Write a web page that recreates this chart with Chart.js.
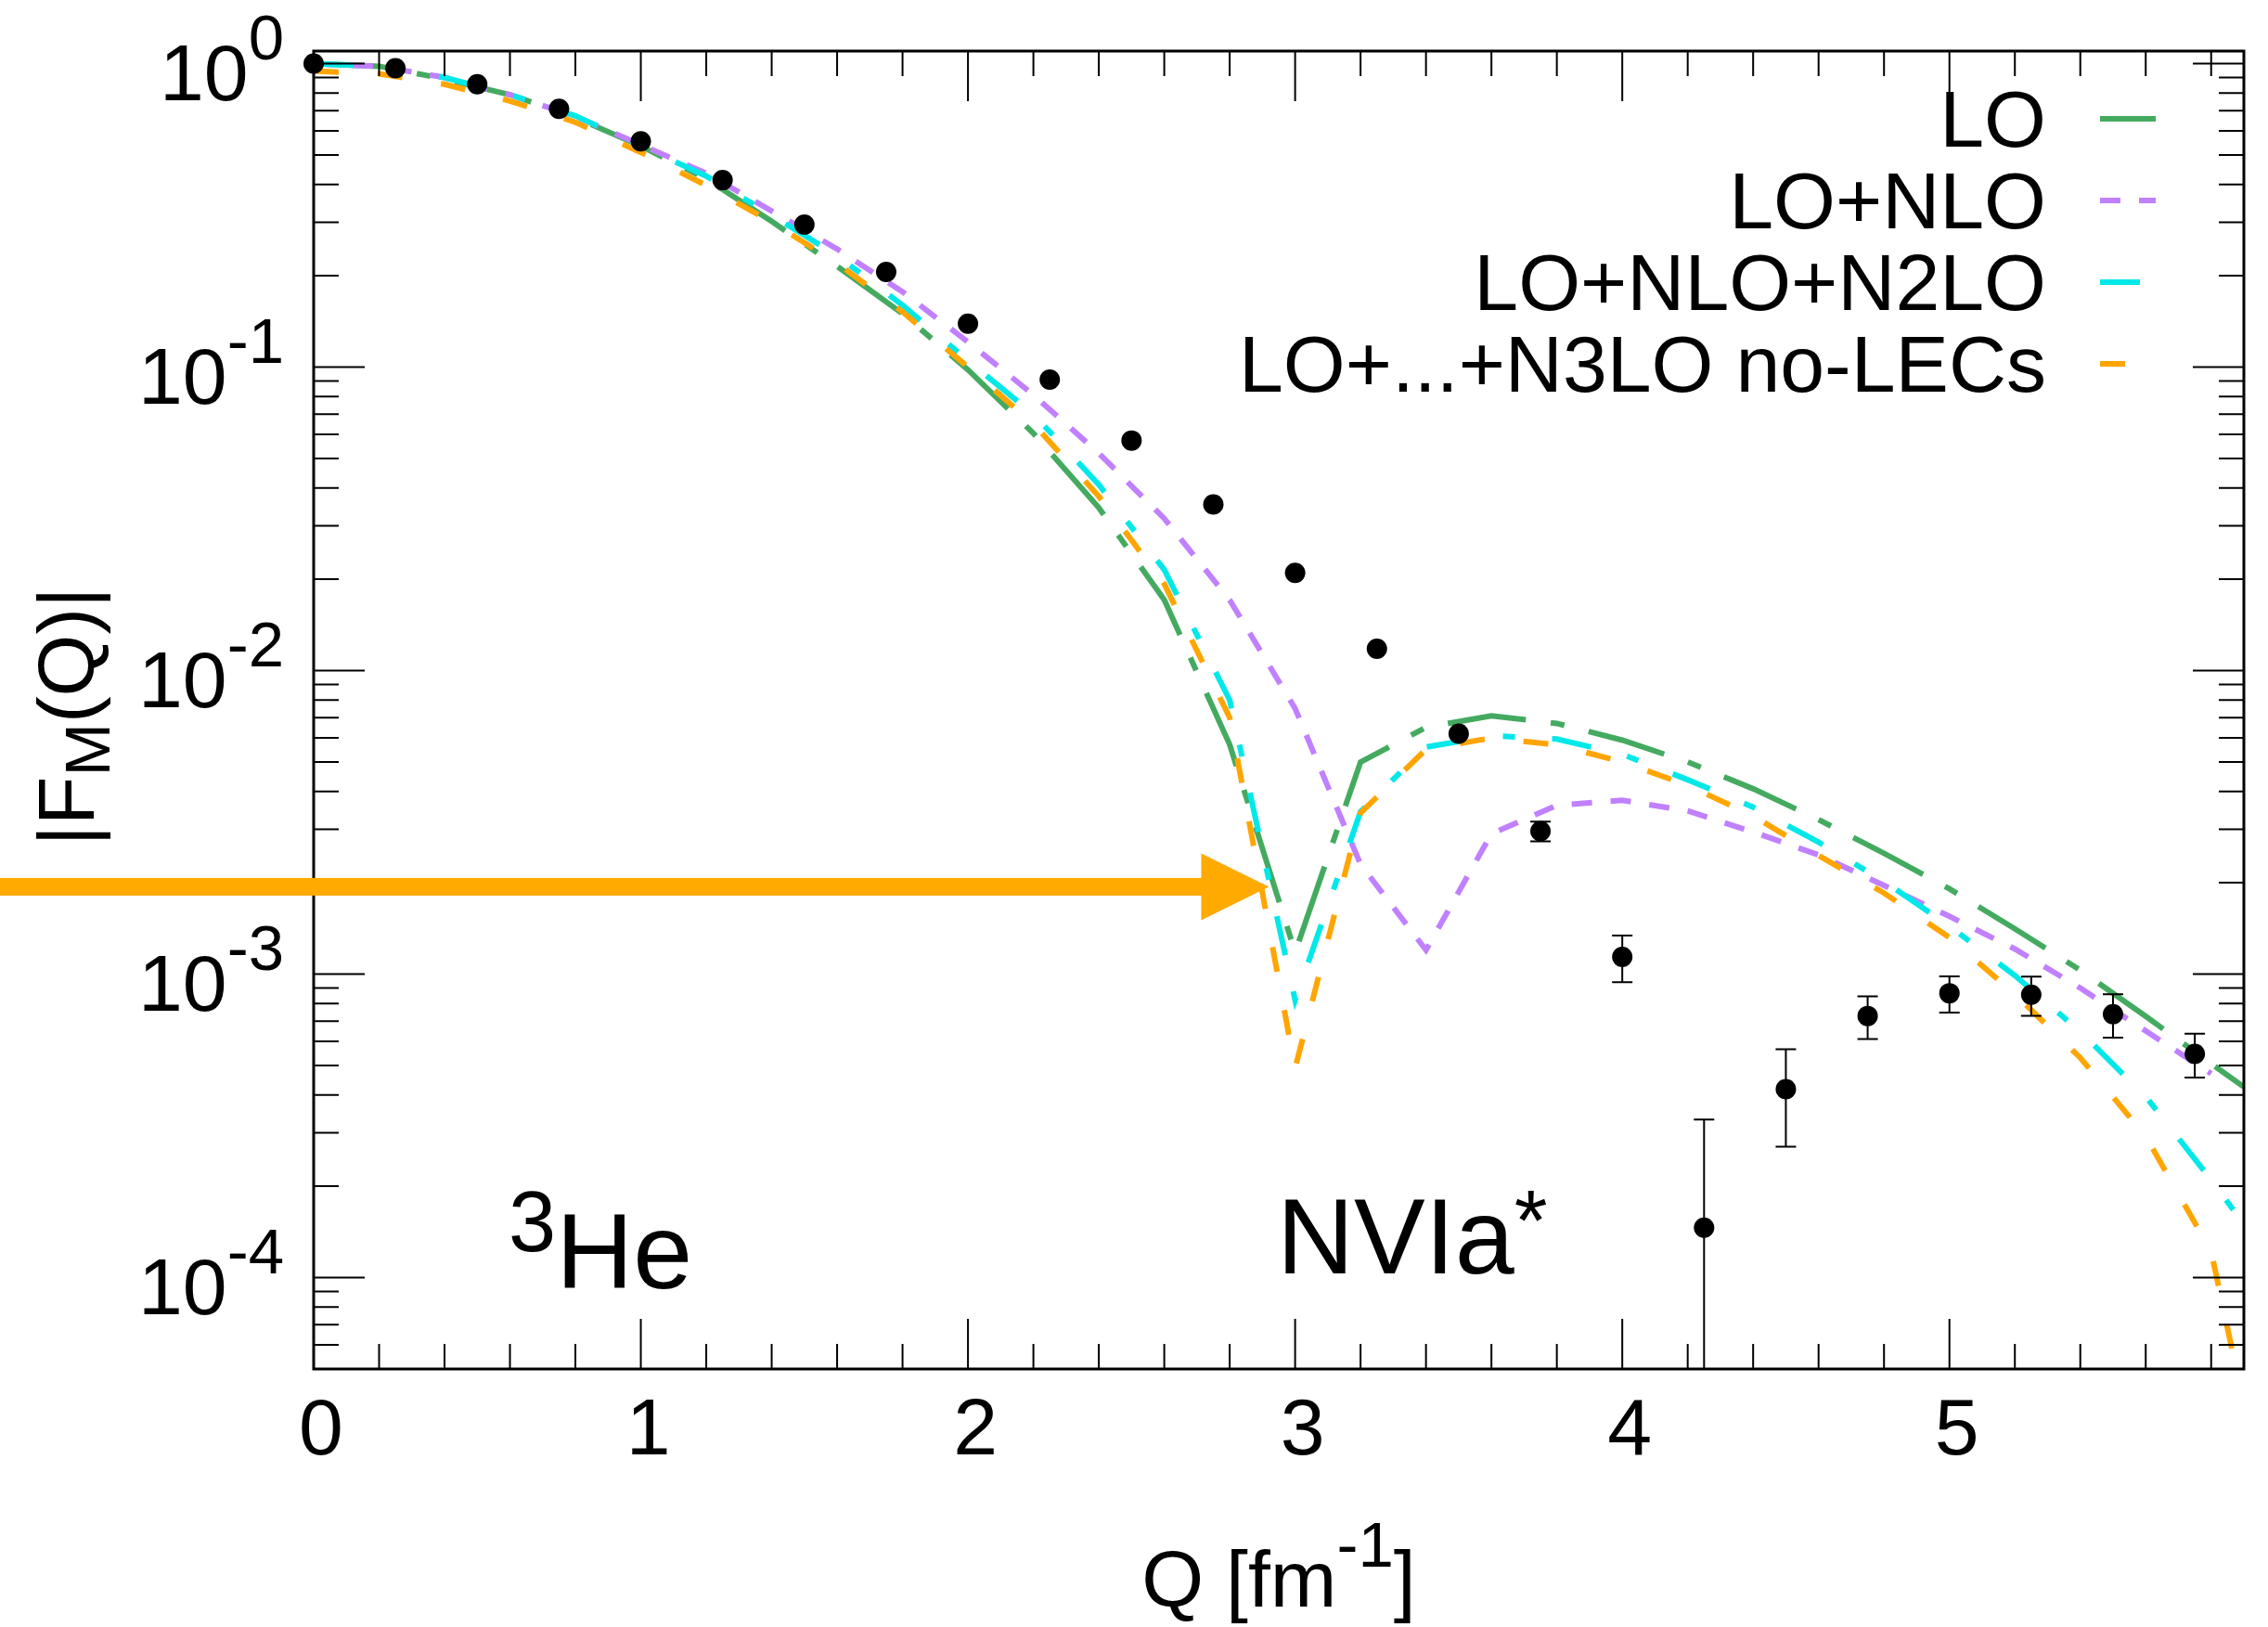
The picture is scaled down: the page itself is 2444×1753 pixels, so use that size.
<!DOCTYPE html>
<html>
<head>
<meta charset="utf-8">
<script src="https://cdn.jsdelivr.net/npm/chart.js@4.4.1/dist/chart.umd.min.js"></script>
<style>
  html, body { margin: 0; padding: 0; background: #fff; }
  canvas { display: block; }
</style>
</head>
<body>
<canvas id="ff-chart" width="2444" height="1753"></canvas>
<script>
// theory curves, |F_M(Q)| vs Q [fm^-1]
const qTheory = [0, 0.2, 0.4, 0.6, 0.8, 1.0, 1.2, 1.4, 1.6, 1.8, 2.0, 2.2, 2.4, 2.6, 2.8, 3.0,
    3.2, 3.4, 3.6, 3.8, 4.0, 4.2, 4.4, 4.6, 4.8, 5.0, 5.2, 5.4, 5.6, 5.8, 5.9];
const loValues = [1.0, 0.98, 0.89, 0.79, 0.665, 0.535, 0.417, 0.302, 0.215, 0.150, 0.098, 0.0605,
    0.0344, 0.0171, 0.0057, 0.00118, 0.0050, 0.0065, 0.0071, 0.0067, 0.0059, 0.0050, 0.00408,
    0.00323, 0.0025, 0.00191, 0.00141, 0.00103, 0.000726, 0.000507, 0.000425];
const nloValues = [1.0, 0.98, 0.90, 0.79, 0.67, 0.54, 0.435, 0.327, 0.245, 0.177, 0.121, 0.081,
    0.052, 0.0317, 0.0171, 0.0075, 0.0023, 0.0012, 0.0029, 0.0036, 0.00374, 0.00345, 0.00294,
    0.00247, 0.00196, 0.00155, 0.00121, 0.0009, 0.00065, 0.00047, null];
const n2loValues = [1.0, 0.98, 0.90, 0.79, 0.673, 0.535, 0.426, 0.317, 0.233, 0.16, 0.105, 0.070,
    0.041, 0.0215, 0.0080, 0.00082, 0.00343, 0.0056, 0.0061, 0.00595, 0.0053, 0.00437, 0.00355,
    0.00272, 0.00202, 0.00144, 0.00099, 0.000646, 0.000395, 0.00021, 0.00015];
const n3loValues = [0.945, 0.925, 0.855, 0.753, 0.641, 0.51, 0.397, 0.30, 0.22, 0.152, 0.10, 0.065,
    0.0375, 0.0193, 0.0070, 0.00049, 0.0034, 0.0055, 0.0060, 0.0057, 0.0050, 0.00419, 0.00332,
    0.00246, 0.00185, 0.00132, 0.00086, 0.00053, 0.000292, 0.000122, 0.000038];

// experimental points
const qData = [0, 0.25, 0.5, 0.75, 1.0, 1.25, 1.5, 1.75, 2.0, 2.25, 2.5, 2.75, 3.0, 3.25, 3.5,
    3.75, 4.0, 4.25, 4.5, 4.75, 5.0, 5.25, 5.5, 5.75];
const fData = [1.0, 0.965, 0.855, 0.71, 0.555, 0.413, 0.295, 0.206, 0.139, 0.091, 0.0573, 0.0353,
    0.021, 0.0118, 0.0062, 0.00296, 0.00114, 0.000146, 0.000418, 0.000728, 0.000865, 0.000855,
    0.000738, 0.000546];
const fErr = [0, 0, 0, 0, 0, 0, 0, 0, 0, 0, 0, 0, 0, 0, 0, 0.00022, 0.0002, 0.000186, 0.000148,
    0.000117, 0.000118, 0.000126, 0.00012, 0.00009];

const seriesLabels = ['LO', 'LO+NLO', 'LO+NLO+N2LO', 'LO+...+N3LO no-LECs'];
const xTickLabels = ['0', '1', '2', '3', '4', '5'];
const yTickExponents = ['0', '-1', '-2', '-3', '-4'];
const arrowTip = { x: 2.92, y: 0.00194 };

const FONT = '"Liberation Sans", Arial, Helvetica, sans-serif';

function toPoints(xs, ys) {
    return xs.map((x, i) => ({ x: x, y: ys[i] }));
}

function curve(label, values, color, dash, order) {
    return {
        label: label,
        data: toPoints(qTheory, values),
        borderColor: color,
        borderWidth: 6,
        borderDash: dash,
        borderCapStyle: 'butt',
        pointRadius: 0,
        tension: 0,
        fill: false,
        spanGaps: false,
        clip: 0,
        order: order,
    };
}

// text pieces: [text, size, dy]
function drawRich(ctx, parts, x, y, align) {
    let total = 0;
    const widths = parts.map(([t, size]) => {
        ctx.font = size + 'px ' + FONT;
        const w = ctx.measureText(t).width;
        total += w;
        return w;
    });
    let cx = x;
    if (align === 'right') cx = x - total;
    if (align === 'center') cx = x - total / 2;
    ctx.textAlign = 'left';
    ctx.textBaseline = 'alphabetic';
    parts.forEach(([t, size, dy], i) => {
        ctx.font = size + 'px ' + FONT;
        ctx.fillText(t, cx, y + dy);
        cx += widths[i];
    });
}

const decorations = {
    id: 'decorations',
    afterDatasetsDraw(chart) {
        const { ctx, chartArea: a, scales: { x, y } } = chart;
        ctx.save();

        // error bars
        ctx.strokeStyle = '#000';
        ctx.lineWidth = 2;
        ctx.beginPath();
        ctx.rect(a.left, a.top, a.right - a.left, a.bottom - a.top);
        ctx.clip();
        qData.forEach((q, i) => {
            if (!fErr[i]) return;
            const px = x.getPixelForValue(q);
            const top = y.getPixelForValue(fData[i] + fErr[i]);
            const lo = fData[i] - fErr[i];
            const bot = lo > 0 ? y.getPixelForValue(lo) : a.bottom + 5;
            ctx.beginPath();
            ctx.moveTo(px, top);
            ctx.lineTo(px, bot);
            ctx.moveTo(px - 11, top);
            ctx.lineTo(px + 11, top);
            if (lo > 0) {
                ctx.moveTo(px - 11, bot);
                ctx.lineTo(px + 11, bot);
            }
            ctx.stroke();
        });
        ctx.restore();
        ctx.save();

        // frame
        ctx.strokeStyle = '#000';
        ctx.lineWidth = 3;
        ctx.strokeRect(a.left, a.top, a.right - a.left, a.bottom - a.top);

        // ticks, all inward, mirrored
        ctx.lineWidth = 2;
        ctx.beginPath();
        for (let i = 0; i <= 29; i++) {
            const px = x.getPixelForValue(i * 0.2);
            const len = i % 5 === 0 ? 54 : 27;
            ctx.moveTo(px, a.bottom);
            ctx.lineTo(px, a.bottom - len);
            ctx.moveTo(px, a.top);
            ctx.lineTo(px, a.top + len);
        }
        for (let e = -5; e <= 0; e++) {
            for (let m = 1; m <= 9; m++) {
                const v = m * Math.pow(10, e);
                if (v < y.min || v > y.max) continue;
                const py = y.getPixelForValue(v);
                const len = m === 1 ? 55 : 27;
                ctx.moveTo(a.left, py);
                ctx.lineTo(a.left + len, py);
                ctx.moveTo(a.right, py);
                ctx.lineTo(a.right - len, py);
            }
        }
        ctx.stroke();

        // tick labels
        ctx.fillStyle = '#000';
        yTickExponents.forEach((ex) => {
            const py = y.getPixelForValue(Math.pow(10, Number(ex)));
            drawRich(ctx, [['10', 86, 0], [ex, 69, -44]], 306, py + 39, 'right');
        });
        xTickLabels.forEach((t) => {
            const px = x.getPixelForValue(Number(t));
            drawRich(ctx, [[t, 86, 0]], px + 8, a.bottom + 92, 'center');
        });

        // axis titles
        drawRich(ctx, [['Q [fm', 86, 0], ['-1', 69, -43], [']', 86, 0]], (a.left + a.right) / 2, 1731, 'center');
        ctx.save();
        ctx.translate(101, 772);
        ctx.rotate(-Math.PI / 2);
        drawRich(ctx, [['|F', 86, 0], ['M', 69, 17], ['(Q)|', 86, 0]], 0, 0, 'center');
        ctx.restore();

        // legend
        const sets = chart.data.datasets.filter((d) => d.label);
        sets.forEach((d, i) => {
            drawRich(ctx, [[d.label, 86, 0]], 2205, 158 + 88 * i, 'right');
            ctx.save();
            ctx.strokeStyle = d.borderColor;
            ctx.lineWidth = 6;
            ctx.setLineDash(d.borderDash);
            ctx.beginPath();
            ctx.moveTo(2263, 128 + 88 * i);
            ctx.lineTo(2323, 128 + 88 * i);
            ctx.stroke();
            ctx.restore();
        });

        // annotations
        drawRich(ctx, [['3', 92, -40], ['He', 115, 0]], 548, 1388, 'left');
        drawRich(ctx, [['NVIa', 115, 0], ['*', 92, -25]], 1376, 1372, 'left');

        // arrow
        const tipX = x.getPixelForValue(arrowTip.x);
        const tipY = y.getPixelForValue(arrowTip.y);
        ctx.fillStyle = '#ffaa00';
        ctx.fillRect(0, tipY - 9.5, tipX - 72, 19);
        ctx.beginPath();
        ctx.moveTo(tipX, tipY);
        ctx.lineTo(tipX - 73, tipY - 36);
        ctx.lineTo(tipX - 73, tipY + 36);
        ctx.closePath();
        ctx.fill();

        ctx.restore();
    },
};

const ctx = document.getElementById('ff-chart').getContext('2d');

// eslint-disable-next-line no-undef
new Chart(ctx, {
    type: 'line',
    data: {
        datasets: [
            {
                data: toPoints(qData, fData),
                showLine: false,
                pointRadius: 11,
                pointHoverRadius: 11,
                pointBackgroundColor: '#000',
                pointBorderWidth: 0,
                clip: false,
                order: 0,
            },
            curve(seriesLabels[0], loValues, '#44aa60', [85, 27, 15, 27], 4),
            curve(seriesLabels[1], nloValues, '#c080ff', [22, 20], 3),
            curve(seriesLabels[2], n2loValues, '#00e8e8', [43, 40, 13, 40], 2),
            curve(seriesLabels[3], n3loValues, '#ffa500', [27, 42], 1),
        ],
    },
    options: {
        responsive: false,
        animation: false,
        devicePixelRatio: 1,
        layout: { padding: { left: 0, top: 55, right: 26, bottom: 0 } },
        scales: {
            x: {
                type: 'linear',
                min: 0,
                max: 5.9,
                grid: { display: false, drawTicks: false },
                border: { display: false },
                ticks: { display: false },
                afterFit: (scale) => { scale.height = 278; },
            },
            y: {
                type: 'logarithmic',
                min: 5e-5,
                max: 1.1,
                grid: { display: false, drawTicks: false },
                border: { display: false },
                ticks: { display: false },
                afterFit: (scale) => { scale.width = 338; },
            },
        },
        plugins: {
            legend: { display: false },
            tooltip: { enabled: false },
        },
    },
    plugins: [decorations],
});
</script>
</body>
</html>
